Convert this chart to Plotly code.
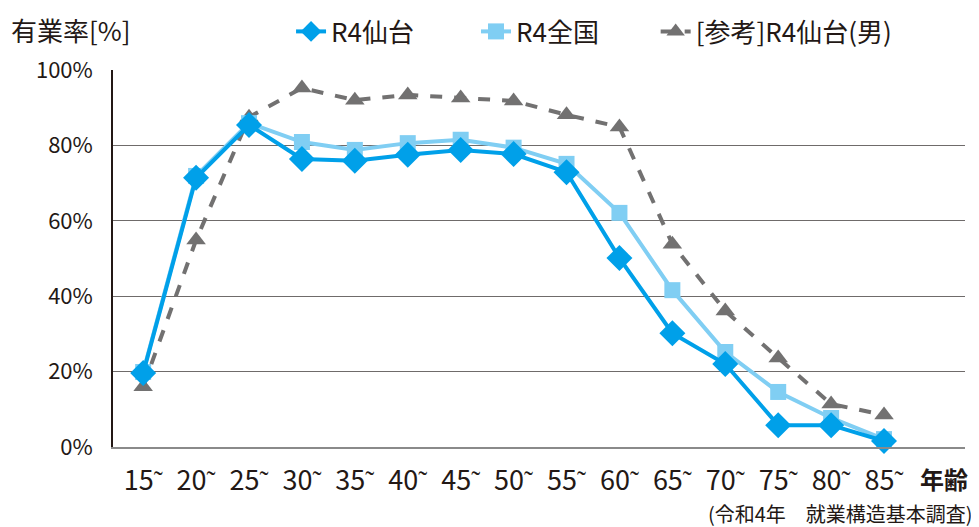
import plotly.graph_objects as go

ages = ["15˜", "20˜", "25˜", "30˜", "35˜", "40˜", "45˜", "50˜", "55˜", "60˜", "65˜", "70˜", "75˜", "80˜", "85˜"]
sendai = [19.6, 71.4, 85.4, 76.4, 75.9, 77.5, 78.8, 77.7, 72.9, 50.1, 30.2, 22.0, 5.8, 5.8, 1.6]
zenkoku = [19.9, 71.9, 85.9, 80.9, 78.8, 80.6, 81.5, 79.4, 75.1, 62.1, 41.6, 25.2, 14.6, 7.7, 2.1]
sendai_male = [16.0, 54.9, 87.5, 95.2, 92.0, 93.4, 92.6, 91.8, 88.1, 84.9, 53.8, 36.1, 23.6, 11.4, 8.5]
y_ticks = [0, 20, 40, 60, 80, 100]
y_ticktext = ["0%", "20%", "40%", "60%", "80%", "100%"]

FONT = "Noto Sans CJK JP"
TXT = "#231815"

fig = go.Figure()
fig.add_trace(go.Scatter(
    x=ages, y=sendai_male, name="[参考]R4仙台(男)", mode="lines+markers",
    line=dict(color="#727171", width=4, dash="dash"),
    marker=dict(symbol="triangle-up", size=17, color="#727171"),
    legend="legend3", cliponaxis=False))
fig.add_trace(go.Scatter(
    x=ages, y=zenkoku, name="R4全国", mode="lines+markers",
    line=dict(color="#80CEF3", width=4),
    marker=dict(symbol="square", size=16, color="#80CEF3"),
    legend="legend2", cliponaxis=False))
fig.add_trace(go.Scatter(
    x=ages, y=sendai, name="R4仙台", mode="lines+markers",
    line=dict(color="#00A0E9", width=4),
    marker=dict(symbol="diamond", size=20, color="#00A0E9"),
    legend="legend", cliponaxis=False))


def leg(xpos):
    return dict(orientation="h", x=xpos, y=1.0, xanchor="left", yanchor="top",
                xref="container", yref="container",
                font=dict(size=26, color=TXT, family=FONT),
                bgcolor="rgba(0,0,0,0)")


# page body has an 8px margin: figure is sized/offset to compensate
fig.update_layout(
    width=971, height=519,
    margin=dict(l=105, r=14, t=62, b=80, autoexpand=False),
    paper_bgcolor="white", plot_bgcolor="white",
    font=dict(family=FONT, color=TXT, size=21),
    showlegend=True,
    legend=leg(0.2915), legend2=leg(0.482), legend3=leg(0.667),
    xaxis=dict(range=[-0.57, 15.53], showgrid=False, showline=True, automargin=False,
               linecolor="#8a8a8a", linewidth=1.5, ticks="outside", ticklen=9,
               tickcolor="rgba(0,0,0,0)", tickfont=dict(size=27, color=TXT),
               zeroline=False),
    yaxis=dict(range=[0, 100], tickvals=y_ticks, ticktext=y_ticktext, automargin=False,
               showgrid=True, gridcolor="#6f6b6a", gridwidth=1,
               showline=True, linecolor=TXT, linewidth=1.5, ticks="outside",
               ticklen=14, tickcolor="rgba(0,0,0,0)", tickfont=dict(size=22, color=TXT),
               zeroline=False),
    annotations=[
        dict(text="有業率[%]", xref="paper", yref="paper", x=-0.122, y=1.0, yshift=41,
             xanchor="left", yanchor="middle", showarrow=False,
             font=dict(size=26, color=TXT)),
        dict(text="<b>年齢</b>", xref="paper", yref="paper", x=1.0, xshift=5, y=0, yshift=-31,
             xanchor="right", yanchor="middle", showarrow=False,
             font=dict(size=24, color=TXT)),
        dict(text="(令和4年　就業構造基本調査)", xref="paper", yref="paper", x=1.0, xshift=10,
             y=0, yshift=-66, xanchor="right", yanchor="middle", showarrow=False,
             font=dict(size=20, color=TXT)),
    ],
)
fig.write_html("out.html")
